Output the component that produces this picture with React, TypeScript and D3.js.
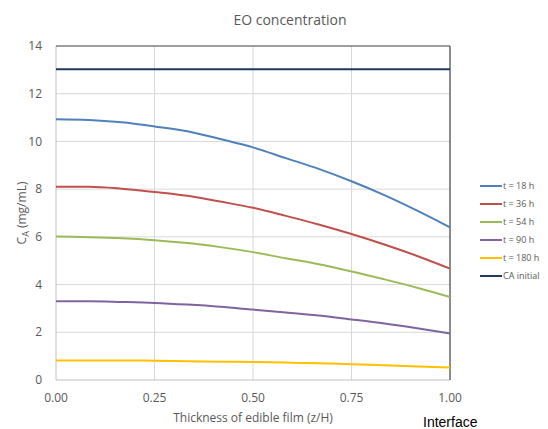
import { useEffect, useRef } from "react"
import * as d3 from "d3"

const positions = [0, 1 / 12, 2 / 12, 3 / 12, 4 / 12, 5 / 12, 6 / 12, 7 / 12, 8 / 12, 9 / 12, 10 / 12, 11 / 12, 1]

const t18 = [10.93, 10.9, 10.8, 10.63, 10.43, 10.1, 9.75, 9.3, 8.85, 8.33, 7.75, 7.1, 6.4]
const t36 = [8.1, 8.1, 8.02, 7.88, 7.72, 7.48, 7.22, 6.88, 6.52, 6.12, 5.68, 5.2, 4.67]
const t54 = [6.02, 5.98, 5.94, 5.86, 5.74, 5.57, 5.36, 5.1, 4.85, 4.55, 4.22, 3.87, 3.48]
const t90 = [3.3, 3.3, 3.27, 3.23, 3.16, 3.07, 2.95, 2.83, 2.7, 2.54, 2.37, 2.17, 1.95]
const t180 = [0.82, 0.82, 0.82, 0.81, 0.79, 0.77, 0.75, 0.73, 0.7, 0.66, 0.62, 0.57, 0.52]
const caInitial = [13.03, 13.03]

const seriesNames = ["t = 18 h", "t = 36 h", "t = 54 h", "t = 90 h", "t = 180 h", "CA initial"]
const seriesColors = ["#4F81BD", "#C0504D", "#9BBB59", "#8064A2", "#FFC000", "#1F3864"]

const xTicks = [0, 0.25, 0.5, 0.75, 1]
const yTicks = [0, 2, 4, 6, 8, 10, 12, 14]

export default function App() {
  const svgRef = useRef<SVGSVGElement>(null)

  useEffect(() => {
    if (!svgRef.current) return
    document.body.style.margin = "0"
    document.body.style.overflow = "hidden"

    const width = 548
    const height = 429
    const margin = { top: 46, right: 98, bottom: 49, left: 56 }
    const innerWidth = width - margin.left - margin.right
    const innerHeight = height - margin.top - margin.bottom
    const font = "'Open Sans', 'Noto Sans', sans-serif"
    const textColor = "#595959"

    const root = d3.select(svgRef.current)
    root.selectAll("*").remove()
    root.attr("width", width).attr("height", height)

    root.append("rect").attr("width", width).attr("height", height).attr("fill", "#fff")

    const svg = root.append("g").attr("transform", `translate(${margin.left},${margin.top})`)

    const x = d3.scaleLinear().domain([0, 1]).range([0, innerWidth])
    const y = d3.scaleLinear().domain([0, 14]).range([innerHeight, 0])

    // grid
    svg
      .append("g")
      .selectAll("line")
      .data(yTicks.slice(1, -1))
      .join("line")
      .attr("x1", 0)
      .attr("x2", innerWidth)
      .attr("y1", (d) => y(d))
      .attr("y2", (d) => y(d))
      .attr("stroke", "#D9D9D9")
    svg
      .append("g")
      .selectAll("line")
      .data(xTicks.slice(1, -1))
      .join("line")
      .attr("x1", (d) => x(d))
      .attr("x2", (d) => x(d))
      .attr("y1", 0)
      .attr("y2", innerHeight)
      .attr("stroke", "#D9D9D9")

    // frame
    svg.append("line").attr("x1", 0).attr("x2", 0).attr("y1", 0).attr("y2", innerHeight).attr("stroke", "#BFBFBF")
    svg.append("line").attr("x1", 0).attr("x2", innerWidth).attr("y1", innerHeight).attr("y2", innerHeight).attr("stroke", "#BFBFBF")
    svg.append("line").attr("x1", 0).attr("x2", innerWidth).attr("y1", 0).attr("y2", 0).attr("stroke", "#404040").attr("stroke-width", 1.2)
    svg.append("line").attr("x1", innerWidth).attr("x2", innerWidth).attr("y1", 0).attr("y2", innerHeight).attr("stroke", "#404040").attr("stroke-width", 1.2)

    // lines
    const data = [t18, t36, t54, t90, t180]
    const line = d3
      .line<number>()
      .x((_, i) => x(positions[i]))
      .y((d) => y(d))
      .curve(d3.curveMonotoneX)

    data.forEach((values, i) => {
      svg
        .append("path")
        .datum(values)
        .attr("fill", "none")
        .attr("stroke", seriesColors[i])
        .attr("stroke-width", 2)
        .attr("d", line)
    })

    svg
      .append("path")
      .datum(caInitial)
      .attr("fill", "none")
      .attr("stroke", seriesColors[5])
      .attr("stroke-width", 2)
      .attr("d", d3.line<number>().x((_, i) => x(i)).y((d) => y(d)))

    // tick labels
    svg
      .append("g")
      .selectAll("text")
      .data(yTicks)
      .join("text")
      .attr("x", -14)
      .attr("y", (d) => y(d))
      .attr("dy", "0.35em")
      .attr("text-anchor", "end")
      .attr("font-family", font)
      .attr("font-size", 12)
      .attr("fill", textColor)
      .text((d) => d)

    svg
      .append("g")
      .selectAll("text")
      .data(xTicks)
      .join("text")
      .attr("x", (d) => x(d))
      .attr("y", innerHeight + 22)
      .attr("text-anchor", "middle")
      .attr("font-family", font)
      .attr("font-size", 12)
      .attr("fill", textColor)
      .text((d) => d3.format(".2f")(d))

    // title
    root
      .append("text")
      .attr("x", 290)
      .attr("y", 25)
      .attr("text-anchor", "middle")
      .attr("font-family", font)
      .attr("font-size", 14)
      .attr("fill", textColor)
      .text("EO concentration")

    // axis titles
    root
      .append("text")
      .attr("x", margin.left + innerWidth / 2)
      .attr("y", 422)
      .attr("text-anchor", "middle")
      .attr("font-family", font)
      .attr("font-size", 12)
      .attr("fill", textColor)
      .text("Thickness of edible film (z/H)")

    const yLabel = root
      .append("text")
      .attr("transform", `translate(26,${margin.top + innerHeight / 2}) rotate(-90)`)
      .attr("text-anchor", "middle")
      .attr("font-family", font)
      .attr("font-size", 12)
      .attr("fill", textColor)
    yLabel.append("tspan").text("C")
    yLabel.append("tspan").attr("font-size", 9).attr("dy", 3).text("A")
    yLabel.append("tspan").attr("dy", -3).text(" (mg/mL)")

    root
      .append("text")
      .attr("x", 423)
      .attr("y", 427)
      .attr("font-family", "'Liberation Sans', Arial, sans-serif")
      .attr("font-size", 14)
      .attr("fill", "#000")
      .text("Interface")

    // legend
    const legend = root.append("g").attr("transform", "translate(480,186)")
    seriesNames.forEach((name, i) => {
      const g = legend.append("g").attr("transform", `translate(0,${i * 18})`)
      g.append("line").attr("x1", 0).attr("x2", 22).attr("stroke", seriesColors[i]).attr("stroke-width", 2)
      g.append("text")
        .attr("x", 23)
        .attr("dy", "0.35em")
        .attr("font-family", font)
        .attr("font-size", 9)
        .attr("fill", textColor)
        .text(name)
    })
  }, [])

  return <svg ref={svgRef} style={{ display: "block" }} />
}
